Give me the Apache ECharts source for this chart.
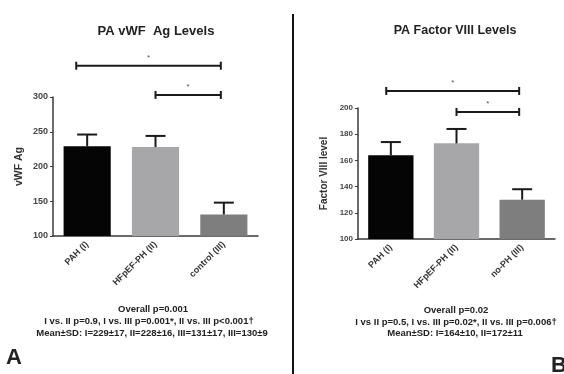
<!DOCTYPE html>
<html>
<head>
<meta charset="utf-8">
<script src="https://cdn.jsdelivr.net/npm/echarts@6/dist/echarts.min.js"></script>
<style>
  html, body { margin: 0; padding: 0; background: #fff; }
  #main { width: 564px; height: 374px; }
</style>
</head>
<body>
<div id="main"></div>
<script>
// panel A
const vwfGroups = ['PAH (I)', 'HFpEF-PH (II)', 'control (III)'];
const vwfMean = [229, 228, 131];
const vwfSD = [17, 16, 17];
const vwfTicks = { min: 100, max: 300, interval: 50 };
const vwfBrackets = [[0, 2, 345], [1, 2, 303]];

// panel B
const f8Groups = ['PAH (I)', 'HFpEF-PH (II)', 'no-PH (III)'];
const f8Mean = [164, 173, 130];
const f8SD = [10, 11, 8];
const f8Ticks = { min: 100, max: 200, interval: 20 };
const f8Brackets = [[0, 2, 213], [1, 2, 197]];

const barColors = ['#050505', '#a7a7a9', '#7e7e7e'];
const font = 'Liberation Sans, Arial, sans-serif';

const chart = echarts.init(document.getElementById('main'));

function errData(mean, sd) {
  return mean.map((m, i) => [i, m, sd[i]]);
}

function renderErr(params, api) {
  const x = api.value(0), m = api.value(1), sd = api.value(2);
  const base = api.coord([x, m]);
  const top = api.coord([x, m + sd]);
  const cw = 10;
  return {
    type: 'group',
    children: [
      { type: 'line', shape: { x1: base[0], y1: base[1], x2: top[0], y2: top[1] },
        style: { stroke: '#1a1a1a', lineWidth: 2 } },
      { type: 'line', shape: { x1: top[0] - cw, y1: top[1], x2: top[0] + cw, y2: top[1] },
        style: { stroke: '#1a1a1a', lineWidth: 2 } }
    ]
  };
}

// the long bracket starts a bit left of the first bar's centre
function bracketRenderer(startShift) {
  return function (params, api) {
    const a = api.coord([api.value(0), api.value(2)]);
    const b = api.coord([api.value(1), api.value(2)]);
    const shift = api.value(0) === 0 ? -api.size([1, 0])[0] * startShift : 0;
    const ax = a[0] + shift, bx = b[0] - 3;
    const h = 4;
    const st = { stroke: '#1a1a1a', lineWidth: 2 };
    return {
      type: 'group',
      children: [
        { type: 'line', shape: { x1: ax, y1: a[1], x2: bx, y2: b[1] }, style: st },
        { type: 'line', shape: { x1: ax, y1: a[1] - h, x2: ax, y2: a[1] + h }, style: st },
        { type: 'line', shape: { x1: bx, y1: b[1] - h, x2: bx, y2: b[1] + h }, style: st },
        { type: 'text', x: (ax + bx) / 2, y: a[1] - 8,
          style: { text: '*', fill: '#555', font: '8px ' + font, align: 'center', verticalAlign: 'middle' } }
      ]
    };
  };
}

function catAxis(grid, groups) {
  return {
    type: 'category', gridIndex: grid, data: groups,
    axisLine: { lineStyle: { color: '#3a3a3a', width: 1.5 } },
    axisTick: { alignWithLabel: true, length: 3, lineStyle: { color: '#3a3a3a' } },
    axisLabel: { rotate: 45, fontSize: 9, fontWeight: 'bold', color: '#333', fontFamily: font, margin: 7 }
  };
}

function valAxis(grid, ticks, name, gap, size, nameSize) {
  return {
    type: 'value', gridIndex: grid, min: ticks.min, max: ticks.max, interval: ticks.interval,
    name: name, nameLocation: 'middle', nameGap: gap,
    nameTextStyle: { fontSize: nameSize, fontWeight: 'bold', color: '#333', fontFamily: font },
    axisLine: { show: true, lineStyle: { color: '#3a3a3a', width: 1.5 } },
    axisTick: { show: true, length: 3, lineStyle: { color: '#3a3a3a' } },
    axisLabel: { fontSize: size, color: '#444', fontWeight: 'bold', fontFamily: font, margin: 5 },
    splitLine: { show: false }
  };
}

function text(x, y, str, size, weight) {
  return { type: 'text', x: x, y: y,
    style: { text: str, fill: '#222', font: (weight || 'bold') + ' ' + size + 'px ' + font,
      textAlign: 'center', textVerticalAlign: 'middle' } };
}

chart.setOption({
  animation: false,
  grid: [
    { left: 53, top: 97, width: 205, height: 139 },
    { left: 358, top: 108, width: 197, height: 131 }
  ],
  xAxis: [catAxis(0, vwfGroups), catAxis(1, f8Groups)],
  yAxis: [valAxis(0, vwfTicks, 'vWF Ag', 28, 9, 10.5), valAxis(1, f8Ticks, 'Factor VIII level', 29, 8, 10)],
  series: [
    { type: 'bar', xAxisIndex: 0, yAxisIndex: 0, barWidth: '69%',
      data: vwfMean.map((v, i) => ({ value: v, itemStyle: { color: barColors[i] } })) },
    { type: 'custom', xAxisIndex: 0, yAxisIndex: 0, renderItem: renderErr, data: errData(vwfMean, vwfSD), z: 3 },
    { type: 'custom', xAxisIndex: 0, yAxisIndex: 0, renderItem: bracketRenderer(0.16), clip: false, data: vwfBrackets },
    { type: 'bar', xAxisIndex: 1, yAxisIndex: 1, barWidth: '69%',
      data: f8Mean.map((v, i) => ({ value: v, itemStyle: { color: barColors[i] } })) },
    { type: 'custom', xAxisIndex: 1, yAxisIndex: 1, renderItem: renderErr, data: errData(f8Mean, f8SD), z: 3 },
    { type: 'custom', xAxisIndex: 1, yAxisIndex: 1, renderItem: bracketRenderer(0.07), clip: false, data: f8Brackets }
  ],
  graphic: [
    { type: 'line', shape: { x1: 293, y1: 14, x2: 293, y2: 374 }, style: { stroke: '#111', lineWidth: 2 } },
    text(156, 31, 'PA vWF  Ag Levels', 13),
    text(455, 31, 'PA Factor VIII Levels', 12.5),
    text(153, 309, 'Overall p=0.001', 9.5),
    text(149, 321, 'I vs. II p=0.9, I vs. III p=0.001*, II vs. III p<0.001\u2020', 9.5),
    text(152, 333, 'Mean\u00b1SD: I=229\u00b117, II=228\u00b116, III=131\u00b117, III=130\u00b19', 9.5),
    text(456, 310, 'Overall p=0.02', 9.5),
    text(456, 322, 'I vs II p=0.5, I vs. III p=0.02*, II vs. III p=0.006\u2020', 9.5),
    text(455, 333, 'Mean\u00b1SD: I=164\u00b110, II=172\u00b111', 9.5),
    text(14, 358, 'A', 22),
    text(559, 366, 'B', 22)
  ]
});
</script>
</body>
</html>
